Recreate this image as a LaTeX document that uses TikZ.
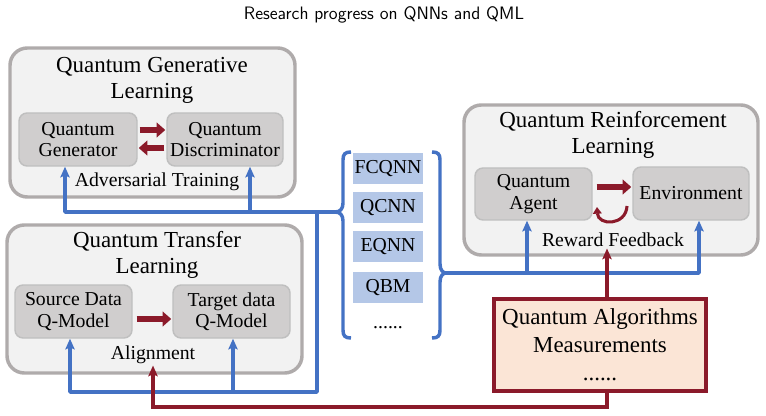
\documentclass[tikz,border=0pt]{standalone}
\usepackage{fontspec}
\setmainfont{Liberation Serif}
\usetikzlibrary{arrows.meta,calc}
\definecolor{qblue}{HTML}{4472C4}
\definecolor{qred}{HTML}{8B1A2A}
\definecolor{outerfill}{HTML}{F2F2F2}
\definecolor{outerdraw}{HTML}{AFABAB}
\definecolor{innerfill}{HTML}{D0CECE}
\definecolor{innerdraw}{HTML}{BFBFBF}
\definecolor{listfill}{HTML}{B4C7E7}
\definecolor{qamfill}{HTML}{FBE5D6}
\begin{document}
\begin{tikzpicture}[x=0.75pt,y=-0.75pt,
  outerbox/.style={draw=outerdraw, fill=outerfill, line width=2.6pt, rounded corners=13pt, inner sep=0pt},
  innerbox/.style={draw=innerdraw, fill=innerfill, line width=1.1pt, rounded corners=6pt, align=center, inner sep=0pt,
    font=\fontsize{14.8}{16}\selectfont},
  grptitle/.style={align=center, inner sep=0pt, font=\fontsize{17.2}{19}\selectfont},
  subtext/.style={inner sep=1pt, font=\fontsize{14.8}{16}\selectfont},
  listbox/.style={fill=listfill, minimum width=52.5pt, minimum height=23.25pt, inner sep=0pt, font=\fontsize{14.8}{16}\selectfont},
  fat/.style={draw=qred, line width=4.8pt, -{Triangle[length=6.5pt,width=11pt]}},
  bline/.style={draw=qblue, line width=2.6pt, line join=round},
  barrow/.style={bline, -{Stealth[length=8pt,width=7pt,inset=1.5pt]}},
  rarrow/.style={draw=qred, line width=2.6pt, -{Stealth[length=8pt,width=7pt,inset=1.5pt]}},
  rcurve/.style={draw=qred, line width=2.3pt, -{Triangle[length=5pt,width=6.5pt]}}
]
\useasboundingbox (0,0) rectangle (766,416);

% title
\node (title) at (384,15) {\sffamily\fontsize{13.5}{16}\selectfont Research progress on QNNs and QML};

% Quantum Generative Learning
\node[outerbox, minimum width=213.75pt, minimum height=111.75pt] (qgl) at (152.5,122.5) {};
\node[grptitle] (qglt) at (152,80.5) {Quantum Generative\\Learning};
\node[innerbox, minimum width=88.5pt, minimum height=39.75pt] (gen) at (78,139.5) {Quantum\\Generator};
\node[innerbox, minimum width=87pt, minimum height=39.75pt] (disc) at (225,139.5) {Quantum\\Discriminator};
\node[subtext] (adv) at (157,182) {Adversarial Training};
\draw[fat] ($(gen.east)+(2,-9.5)$) -- ($(disc.west)+(-1,-9.5)$);
\draw[fat] ($(disc.west)+(-2,8.5)$) -- ($(gen.east)+(1,8.5)$);

% Quantum Transfer Learning
\node[outerbox, minimum width=221.25pt, minimum height=111pt] (qtl) at (154.5,299) {};
\node[grptitle] (qtlt) at (157,255) {Quantum Transfer\\Learning};
\node[innerbox, minimum width=87.75pt, minimum height=39.75pt] (src) at (73.5,311.5) {Source Data\\Q-Model};
\node[innerbox, minimum width=87.75pt, minimum height=39.75pt] (tgt) at (231.5,311.5) {Target data\\Q-Model};
\node[subtext] (aln) at (153,355) {Alignment};
\draw[fat] ($(src.east)+(4,7.5)$) -- ($(tgt.west)+(-1,7.5)$);

% Quantum Reinforcement Learning
\node[outerbox, minimum width=220.5pt, minimum height=112.5pt] (qrl) at (611,180) {};
\node[grptitle] (qrlt) at (613,135) {Quantum Reinforcement\\Learning};
\node[innerbox, minimum width=87.75pt, minimum height=39pt] (agent) at (533.5,194) {Quantum\\Agent};
\node[innerbox, minimum width=87pt, minimum height=39.75pt] (env) at (691,193.5) {Environment};
\node[subtext] (rew) at (613,240) {Reward Feedback};
\draw[fat] ($(agent.east)+(4,-7)$) -- ($(env.west)+(-1,-6.5)$);
\coordinate (c1) at (627,206);
\coordinate (c2) at (597,207);
\draw[rcurve] (c1) .. controls (626,226) and (598,226) .. (c2);

% list of models
\node[listbox] (fc) at (388,169) {FCQNN};
\node[listbox] (qc) at (388,208) {QCNN};
\node[listbox] (eq) at (388,247) {EQNN};
\node[listbox] (qb) at (388,287.5) {QBM};
\node[subtext] (ldots) at (388,328) {......};

% braces
\coordinate (lbt) at (335,212);
\coordinate (rbt) at (446,273);
\draw[bline] (351,152) .. controls (345,152) and (343,154) .. (343,160)
  -- (343,203) .. controls (343,209) and (340,212) .. (lbt)
  .. controls (340,212) and (343,215) .. (343,221)
  -- (343,330) .. controls (343,336) and (345,338) .. (351,338);
\draw[bline] (432,152) .. controls (438,152) and (440,154) .. (440,160)
  -- (440,264) .. controls (440,270) and (443,273) .. (rbt)
  .. controls (443,273) and (440,276) .. (440,282)
  -- (440,330) .. controls (440,336) and (438,338) .. (432,338);

% Quantum Algorithms box
\node[draw=qred, fill=qamfill, line width=2.8pt, minimum width=159pt, minimum height=69pt, inner sep=0pt,
  align=center, font=\fontsize{17.2}{21}\selectfont] (qam) at (600,345) {Quantum Algorithms\\Measurements\\......};

% blue connectors
\coordinate (b1) at (65,212);
\coordinate (b2) at (250,212);
\coordinate (b3) at (317,212);
\coordinate (b4) at (317,392);
\coordinate (b5) at (70,392);
\coordinate (b6) at (233,392);
\coordinate (b7) at (699,273);
\coordinate (b8) at (527,273);
\draw[barrow] (lbt) -- (b1) -- (b1 |- gen.south);
\draw[barrow] (b2) -- (b2 |- disc.south);
\draw[barrow] (b3) -- (b4) -- (b5) -- (b5 |- src.south);
\draw[barrow] (b6) -- (b6 |- tgt.south);
\draw[barrow] (rbt) -- (b7) -- (b7 |- env.south);
\draw[barrow] (b8) -- (b8 |- agent.south);

% red connectors
\coordinate (r1) at (607,298);
\coordinate (r2) at (607,407);
\coordinate (r3) at (153,407);
\draw[rarrow] (qam.north -| r1) -- (r1 |- rew.south);
\draw[rarrow] (qam.south -| r2) -- (r2) -- (r3) -- (r3 |- aln.south);
\end{tikzpicture}
\end{document}
